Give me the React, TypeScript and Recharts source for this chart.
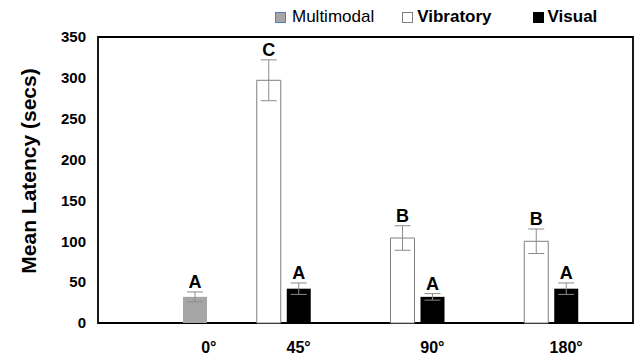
import React from "react";
import {
  BarChart,
  Bar,
  XAxis,
  YAxis,
  ErrorBar,
  LabelList,
  Legend,
  ReferenceArea,
} from "recharts";

const categories = ["0°", "45°", "90°", "180°"];
const multimodal = [32, null, null, null];
const multimodalErr = [6, null, null, null];
const vibratory = [null, 297, 104, 100];
const vibratoryErr = [null, 25, 15, 15];
const visual = [null, 42, 32, 42];
const visualErr = [null, 7, 4, 7];
const multimodalLetters = ["A", null, null, null];
const vibratoryLetters = [null, "C", "B", "B"];
const visualLetters = [null, "A", "A", "A"];
const yTicks = [0, 50, 100, 150, 200, 250, 300, 350];

const data = categories.map((cat, i) => ({
  cat,
  multimodal: multimodal[i],
  multimodalErr: multimodalErr[i],
  multimodalLetter: multimodalLetters[i],
  vibratory: vibratory[i],
  vibratoryErr: vibratoryErr[i],
  vibratoryLetter: vibratoryLetters[i],
  visual: visual[i],
  visualErr: visualErr[i],
  visualLetter: visualLetters[i],
}));

const FONT = "'Liberation Sans', Arial, sans-serif";

// letter drawn just above the top of the error bar; value is the whole row
function letterLabel(key: string) {
  return (props: any) => {
    const { x, y, width, height, value } = props;
    if (!value || typeof value !== "object") return null;
    const letter = value[key + "Letter"];
    const v = value[key];
    if (!letter || !v) return null;
    const pxPerUnit = height / v;
    const top = y - (value[key + "Err"] ?? 0) * pxPerUnit;
    return (
      <text
        x={x + width / 2}
        y={top - 4}
        textAnchor="middle"
        fontFamily={FONT}
        fontWeight="bold"
        fontSize={18}
        fill="#000"
      >
        {letter}
      </text>
    );
  };
}

function XTick(props: any) {
  const { x, y, payload, index } = props;
  const dx = index === 0 ? 44 : 0;
  return (
    <text
      x={x + dx}
      y={y + 30}
      textAnchor="middle"
      fontFamily={FONT}
      fontWeight="bold"
      fontSize={16}
      fill="#000"
    >
      {payload.value}
    </text>
  );
}

const legendItems = [
  { name: "Multimodal", fill: "#a6a6a6", stroke: "#4f81bd", bold: false, gap: 28 },
  { name: "Vibratory", fill: "#fff", stroke: "#7f7f7f", bold: true, gap: 41 },
  { name: "Visual", fill: "#000", stroke: "#000", bold: true, gap: 0 },
];

function LegendBox() {
  return (
    <div style={{ display: "flex", alignItems: "center", paddingLeft: 275, height: 34 }}>
      {legendItems.map((it) => (
        <div key={it.name} style={{ display: "flex", alignItems: "center", marginRight: it.gap }}>
          <span
            style={{
              width: 9,
              height: 9,
              background: it.fill,
              border: `1px solid ${it.stroke}`,
              marginRight: it.bold ? 4 : 6,
            }}
          />
          <span
            style={{
              fontFamily: FONT,
              fontSize: 17,
              fontWeight: it.bold ? "bold" : "normal",
              color: "#000",
            }}
          >
            {it.name}
          </span>
        </div>
      ))}
    </div>
  );
}

function YLabel() {
  return (
    <text
      x={28}
      y={171}
      transform="rotate(-90 28 171)"
      textAnchor="middle"
      dominantBaseline="central"
      fontFamily={FONT}
      fontWeight="bold"
      fontSize={21}
      fill="#000"
    >
      Mean Latency (secs)
    </text>
  );
}

const wholeRow = (d: any) => d;

export default function App() {
  return (
    <div style={{ position: "absolute", left: 0, top: 0, background: "#fff" }}>
      <BarChart
        width={636}
        height={358}
        data={data}
        margin={{ top: 37, right: 3, bottom: 0, left: 0 }}
        barSize={24}
        barGap={6}
      >
        <XAxis
          dataKey="cat"
          axisLine={false}
          tickLine={false}
          tickSize={0}
          tickMargin={0}
          height={35}
          tick={<XTick />}
          interval={0}
        />
        <YAxis
          domain={[0, 350]}
          ticks={yTicks}
          width={98}
          axisLine={false}
          tickLine={false}
          tickSize={0}
          tickMargin={12}
          tick={{ fill: "#000", fontSize: 15, fontWeight: "bold", fontFamily: FONT }}
          label={<YLabel />}
        />
        <Legend
          verticalAlign="middle"
          align="center"
          content={() => <LegendBox />}
          wrapperStyle={{ top: 0, left: 0, width: 636 }}
        />
        <Bar dataKey="vibratory" fill="#fff" stroke="#7f7f7f" strokeWidth={1} isAnimationActive={false}>
          <ErrorBar dataKey="vibratoryErr" width={8} stroke="#8c8c8c" strokeWidth={1} />
          <LabelList dataKey={wholeRow} content={letterLabel("vibratory")} />
        </Bar>
        <Bar dataKey="visual" fill="#000" isAnimationActive={false}>
          <ErrorBar dataKey="visualErr" width={8} stroke="#8c8c8c" strokeWidth={1} />
          <LabelList dataKey={wholeRow} content={letterLabel("visual")} />
        </Bar>
        <Bar dataKey="multimodal" fill="#a6a6a6" isAnimationActive={false}>
          <ErrorBar dataKey="multimodalErr" width={8} stroke="#8c8c8c" strokeWidth={1} />
          <LabelList dataKey={wholeRow} content={letterLabel("multimodal")} />
        </Bar>
        <ReferenceArea
          x1="0°"
          x2="180°"
          y1={0}
          y2={350}
          fill="none"
          stroke="#000"
          strokeWidth={1.8}
          fillOpacity={0}
        />
      </BarChart>
    </div>
  );
}
